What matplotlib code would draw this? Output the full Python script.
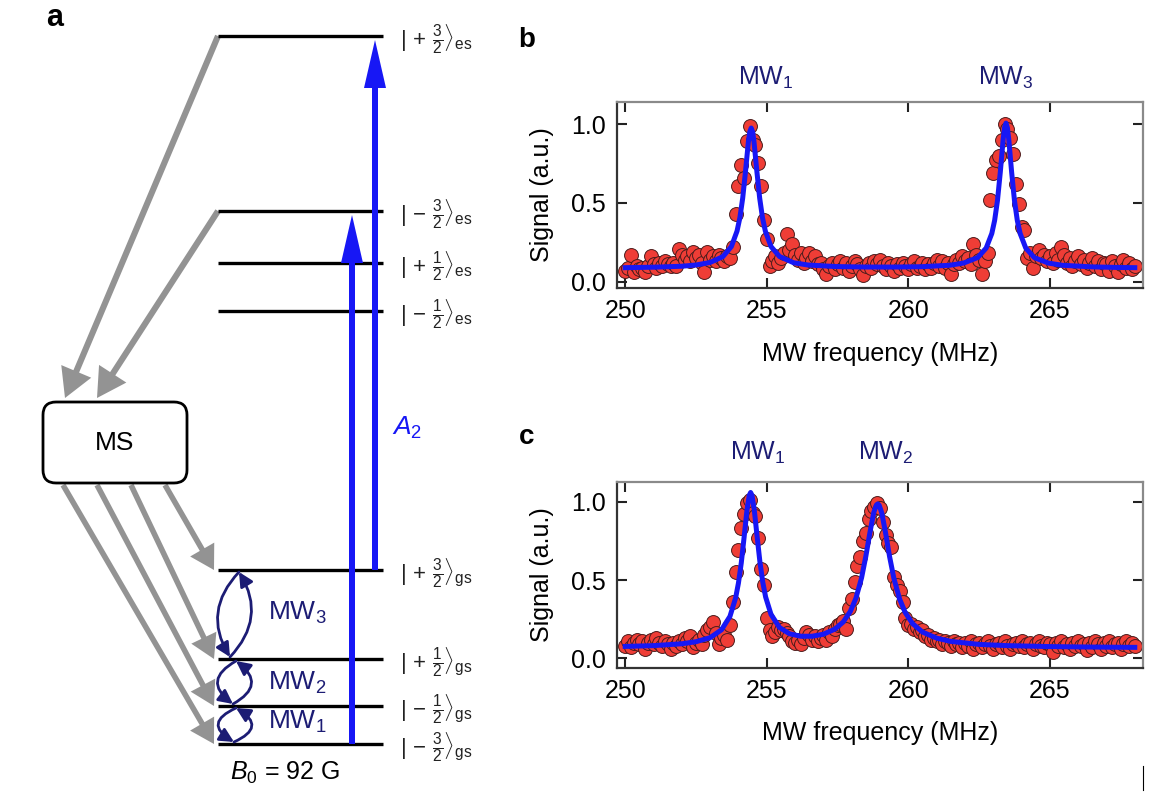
import numpy as np
import matplotlib.pyplot as plt
from matplotlib.patches import FancyArrow, FancyArrowPatch, FancyBboxPatch

plt.rcParams['font.family'] = ['Liberation Sans', 'DejaVu Sans']
plt.rcParams['mathtext.fontset'] = 'custom'
plt.rcParams['mathtext.rm'] = 'Liberation Sans'
plt.rcParams['mathtext.it'] = 'Liberation Sans:italic'
plt.rcParams['mathtext.bf'] = 'Liberation Sans:bold'

# ODMR spectra, one point every 0.1 MHz from 250 to 268 MHz
sig_b = [0.07, 0.09, 0.17, 0.06, 0.10, 0.08, 0.09, 0.06, 0.10, 0.16,
         0.11, 0.09, 0.12, 0.10, 0.13, 0.11, 0.10, 0.12, 0.10, 0.21,
         0.17, 0.14, 0.16, 0.13, 0.19, 0.15, 0.17, 0.12, 0.06, 0.19,
         0.14, 0.16, 0.13, 0.17, 0.15, 0.13, 0.16, 0.15, 0.22, 0.43,
         0.61, 0.74, 0.66, 0.89, 0.99, 0.90, 0.87, 0.75, 0.61, 0.39,
         0.27, 0.10, 0.13, 0.16, 0.12, 0.15, 0.18, 0.30, 0.20, 0.24,
         0.17, 0.14, 0.18, 0.12, 0.15, 0.18, 0.13, 0.16, 0.11, 0.12,
         0.08, 0.05, 0.10, 0.12, 0.08, 0.11, 0.13, 0.09, 0.12, 0.07,
         0.10, 0.13, 0.11, 0.08, 0.04, 0.10, 0.12, 0.09, 0.13, 0.11,
         0.14, 0.10, 0.08, 0.12, 0.10, 0.07, 0.11, 0.09, 0.12, 0.10,
         0.08, 0.11, 0.13, 0.09, 0.10, 0.12, 0.08, 0.11, 0.09, 0.12,
         0.14, 0.10, 0.13, 0.09, 0.12, 0.05, 0.11, 0.14, 0.12, 0.16,
         0.13, 0.15, 0.11, 0.24, 0.17, 0.14, 0.05, 0.13, 0.18, 0.52,
         0.69, 0.77, 0.80, 0.90, 1.00, 0.97, 0.91, 0.81, 0.62, 0.49,
         0.35, 0.33, 0.15, 0.18, 0.09, 0.16, 0.20, 0.15, 0.17, 0.13,
         0.16, 0.12, 0.18, 0.14, 0.22, 0.17, 0.12, 0.15, 0.10, 0.13,
         0.16, 0.11, 0.14, 0.09, 0.12, 0.15, 0.10, 0.13, 0.08, 0.12,
         0.11, 0.07, 0.13, 0.10, 0.06, 0.11, 0.14, 0.09, 0.12, 0.08,
         0.10]
sig_c = [0.08, 0.11, 0.07, 0.10, 0.12, 0.09, 0.11, 0.06, 0.10, 0.12,
         0.09, 0.13, 0.10, 0.08, 0.11, 0.09, 0.06, 0.10, 0.08, 0.11,
         0.09, 0.13, 0.11, 0.14, 0.07, 0.10, 0.12, 0.09, 0.15, 0.18,
         0.20, 0.23, 0.16, 0.09, 0.13, 0.15, 0.12, 0.21, 0.36, 0.55,
         0.69, 0.83, 0.92, 0.99, 1.01, 0.93, 0.91, 0.77, 0.57, 0.47,
         0.26, 0.18, 0.14, 0.17, 0.20, 0.18, 0.19, 0.16, 0.14, 0.11,
         0.10, 0.12, 0.09, 0.13, 0.17, 0.15, 0.12, 0.14, 0.11, 0.13,
         0.15, 0.12, 0.17, 0.14, 0.19, 0.21, 0.22, 0.24, 0.19, 0.32,
         0.38, 0.49, 0.59, 0.65, 0.75, 0.80, 0.89, 0.94, 0.97, 0.99,
         0.96, 0.87, 0.79, 0.74, 0.71, 0.52, 0.47, 0.43, 0.36, 0.26,
         0.21, 0.22, 0.19, 0.20, 0.17, 0.18, 0.14, 0.15, 0.12, 0.13,
         0.11, 0.12, 0.09, 0.11, 0.10, 0.08, 0.11, 0.09, 0.10, 0.07,
         0.10, 0.08, 0.11, 0.06, 0.09, 0.10, 0.07, 0.09, 0.11, 0.08,
         0.06, 0.09, 0.10, 0.07, 0.11, 0.08, 0.06, 0.09, 0.10, 0.08,
         0.11, 0.07, 0.09, 0.10, 0.06, 0.09, 0.11, 0.08, 0.07, 0.10,
         0.09, 0.04, 0.10, 0.08, 0.11, 0.07, 0.09, 0.06, 0.10, 0.08,
         0.11, 0.08, 0.09, 0.05, 0.10, 0.07, 0.11, 0.09, 0.06, 0.10,
         0.08, 0.11, 0.07, 0.09, 0.10, 0.06, 0.09, 0.11, 0.08, 0.10,
         0.08]
freq = np.linspace(250, 268, len(sig_b))

# fitted curves
fit_b_x = [250.0, 251.0, 252.0, 252.5, 253.0, 253.45, 253.75, 253.95, 254.05, 254.15,
           254.25, 254.35, 254.4, 254.45, 254.5, 254.55, 254.65, 254.75, 254.85, 254.95,
           255.15, 255.45, 255.95, 256.45, 257.45, 258.5, 259.5, 260.45, 261.45, 261.95,
           262.45, 262.75, 262.95, 263.05, 263.15, 263.25, 263.35, 263.4, 263.45, 263.5,
           263.55, 263.65, 263.75, 263.85, 263.95, 264.15, 264.45, 264.95, 265.45, 266.5,
           267.5, 268.0]
fit_b_y = [0.089, 0.092, 0.098, 0.106, 0.122, 0.159, 0.223, 0.321, 0.405, 0.530,
           0.701, 0.886, 0.951, 0.975, 0.951, 0.886, 0.701, 0.530, 0.405, 0.321,
           0.223, 0.160, 0.120, 0.106, 0.096, 0.093, 0.093, 0.095, 0.104, 0.118,
           0.153, 0.213, 0.306, 0.389, 0.515, 0.695, 0.902, 0.977, 1.006, 0.977,
           0.902, 0.695, 0.515, 0.389, 0.306, 0.213, 0.153, 0.118, 0.104, 0.094,
           0.090, 0.089]
fit_c_x = [250.0, 251.0, 252.0, 252.5, 253.0, 253.4, 253.7, 253.9, 254.0, 254.1,
           254.2, 254.3, 254.38, 254.43, 254.48, 254.56, 254.66, 254.76, 254.86, 254.96,
           255.15, 255.45, 255.8, 256.2, 256.6, 257.0, 257.4, 257.7, 257.95, 258.15,
           258.35, 258.5, 258.65, 258.78, 258.87, 258.92, 258.97, 259.06, 259.19, 259.34,
           259.49, 259.69, 259.89, 260.15, 260.5, 261.0, 261.5, 262.5, 263.5, 265.0,
           266.5, 268.0]
fit_c_y = [0.076, 0.081, 0.093, 0.106, 0.132, 0.182, 0.268, 0.386, 0.481, 0.610,
           0.774, 0.946, 1.040, 1.060, 1.041, 0.947, 0.777, 0.614, 0.486, 0.392,
           0.281, 0.197, 0.157, 0.141, 0.141, 0.154, 0.186, 0.232, 0.299, 0.384,
           0.515, 0.652, 0.810, 0.932, 0.979, 0.987, 0.979, 0.931, 0.809, 0.649,
           0.512, 0.380, 0.293, 0.222, 0.168, 0.129, 0.108, 0.089, 0.081, 0.075,
           0.072, 0.070]

# panel a level scheme, figure pixels (y down)
levels_y = [36, 211, 263, 311, 570, 659, 706, 744]
levels_lab = [r'$|\,+\,\frac{3}{2}\rangle_{\mathrm{es}}$', r'$|\,-\,\frac{3}{2}\rangle_{\mathrm{es}}$',
              r'$|\,+\,\frac{1}{2}\rangle_{\mathrm{es}}$', r'$|\,-\,\frac{1}{2}\rangle_{\mathrm{es}}$',
              r'$|\,+\,\frac{3}{2}\rangle_{\mathrm{gs}}$', r'$|\,+\,\frac{1}{2}\rangle_{\mathrm{gs}}$',
              r'$|\,-\,\frac{1}{2}\rangle_{\mathrm{gs}}$', r'$|\,-\,\frac{3}{2}\rangle_{\mathrm{gs}}$']
lev_x0, lev_x1, lab_x = 218, 383, 400
laser = [(352, 744, 215), (375, 570, 40)]          # x, from, to
decay_es = [((218, 36), (65, 398)), ((218, 211), (97, 398))]
decay_gs = [((63, 485), (214, 744)), ((97, 485), (214, 706)),
            ((131, 485), (214, 659)), ((165, 485), (214, 570))]
mw_loops = [(239, 572, 230, 657, 0.38), (236, 661, 233, 704, 0.76), (236, 708, 234, 742, 0.95)]
mw_lab = [('MW$_3$', 613), ('MW$_2$', 683), ('MW$_1$', 722)]

W, H = 1168, 811
blue = '#1717f5'
navy = '#1c1c74'
gray = '#939393'

fig = plt.figure(figsize=(W / 100, H / 100), dpi=100)
ax = fig.add_axes([0, 0, 1, 1])
ax.set_xlim(0, W)
ax.set_ylim(H, 0)
ax.axis('off')

for y in levels_y:
    ax.plot([lev_x0, lev_x1], [y, y], color='k', lw=2.4, solid_capstyle='butt', zorder=2)
for y, lab in zip(levels_y, levels_lab):
    ax.text(lab_x, y + 3, lab, fontsize=16, ha='left', va='center', color='#222222')

for x, y0, y1 in laser:
    ax.add_patch(FancyArrow(x, y0, 0, y1 - y0, width=6, head_width=22, head_length=48,
                            length_includes_head=True, color=blue, lw=0, zorder=3))
ax.text(392, 428, r'$A_2$', fontsize=19, color=blue, ha='left', va='center')

ax.add_patch(FancyBboxPatch((43, 402), 144, 81, boxstyle='round,pad=0,rounding_size=13',
                            fc='white', ec='k', lw=2, zorder=2))
ax.text(115, 443, 'MS', fontsize=19, ha='center', va='center')

for a, b in decay_es:
    ax.add_patch(FancyArrowPatch(a, b, arrowstyle='simple,head_length=0.8,head_width=0.9,tail_width=0.17',
                                 mutation_scale=26, color=gray, lw=0, shrinkA=0, shrinkB=0, zorder=1))
for a, b in decay_gs:
    ax.add_patch(FancyArrowPatch(a, b, arrowstyle='simple,head_length=0.85,head_width=1.0,tail_width=0.2',
                                 mutation_scale=20, color=gray, lw=0, shrinkA=0, shrinkB=0, zorder=1))

for xt, yt, xb, yb, rad in mw_loops:
    for p, q in [((xt, yt), (xb, yb)), ((xb, yb), (xt, yt))]:
        ax.add_patch(FancyArrowPatch(p, q, connectionstyle='arc3,rad=%s' % rad,
                                     arrowstyle='-|>,head_length=0.7,head_width=0.35',
                                     mutation_scale=12, color=navy, lw=2.0,
                                     shrinkA=0, shrinkB=0, zorder=4))
for lab, y in mw_lab:
    ax.text(268, y, lab, fontsize=19, color=navy, ha='left', va='center')

ax.text(285, 773, r'$B_0$ = 92 G', fontsize=18, ha='center', va='center')
ax.text(55, 18, 'a', fontsize=22, fontweight='bold', ha='center', va='center')
ax.text(527, 40, 'b', fontsize=20, fontweight='bold', ha='center', va='center')
ax.text(527, 437, 'c', fontsize=20, fontweight='bold', ha='center', va='center')
ax.plot([1143, 1143], [766, 790], color='k', lw=0.8)


def spectrum(rect, sig, fx, fy, ylim, peaks, lab_y):
    s = fig.add_axes(rect)
    s.scatter(freq, sig, s=100, c='#ef3d36', edgecolors='#4a1c1c', linewidths=0.7, zorder=2)
    s.plot(fx, fy, color=blue, lw=3.6, zorder=3)
    s.set_xlim(249.71, 268.28)
    s.set_ylim(*ylim)
    s.set_xticks([250, 255, 260, 265])
    s.set_yticks([0.0, 0.5, 1.0])
    s.set_yticklabels(['0.0', '0.5', '1.0'])
    s.tick_params(direction='in', top=True, right=True, length=7, width=1.5,
                  labelsize=18, pad=8, color='#222222')
    for side in ['left', 'bottom']:
        s.spines[side].set_color('#333333')
        s.spines[side].set_linewidth(1.6)
    for side in ['top', 'right']:
        s.spines[side].set_color('#8a8a8a')
        s.spines[side].set_linewidth(1.6)
    s.set_xlabel('MW frequency (MHz)', fontsize=18)
    s.set_ylabel('Signal (a.u.)', fontsize=18)
    s.xaxis.set_label_coords(0.5, -0.29)
    s.yaxis.set_label_coords(-0.12, 0.5)
    for x, t in peaks:
        s.text(x, lab_y, t, transform=s.get_xaxis_transform(), fontsize=18,
               color=navy, ha='center', va='baseline')
    return s


spectrum([617 / W, 1 - 288 / H, 525.7 / W, 186 / H], sig_b, fit_b_x, fit_b_y,
         (-0.04, 1.14), [(254.95, 'MW$_1$'), (263.45, 'MW$_3$')], 1.09)
spectrum([617 / W, 1 - 667.7 / H, 525.7 / W, 185.4 / H], sig_c, fit_c_x, fit_c_y,
         (-0.06, 1.125), [(254.7, 'MW$_1$'), (259.2, 'MW$_2$')], 1.12)

plt.savefig('out.png', dpi=100)
